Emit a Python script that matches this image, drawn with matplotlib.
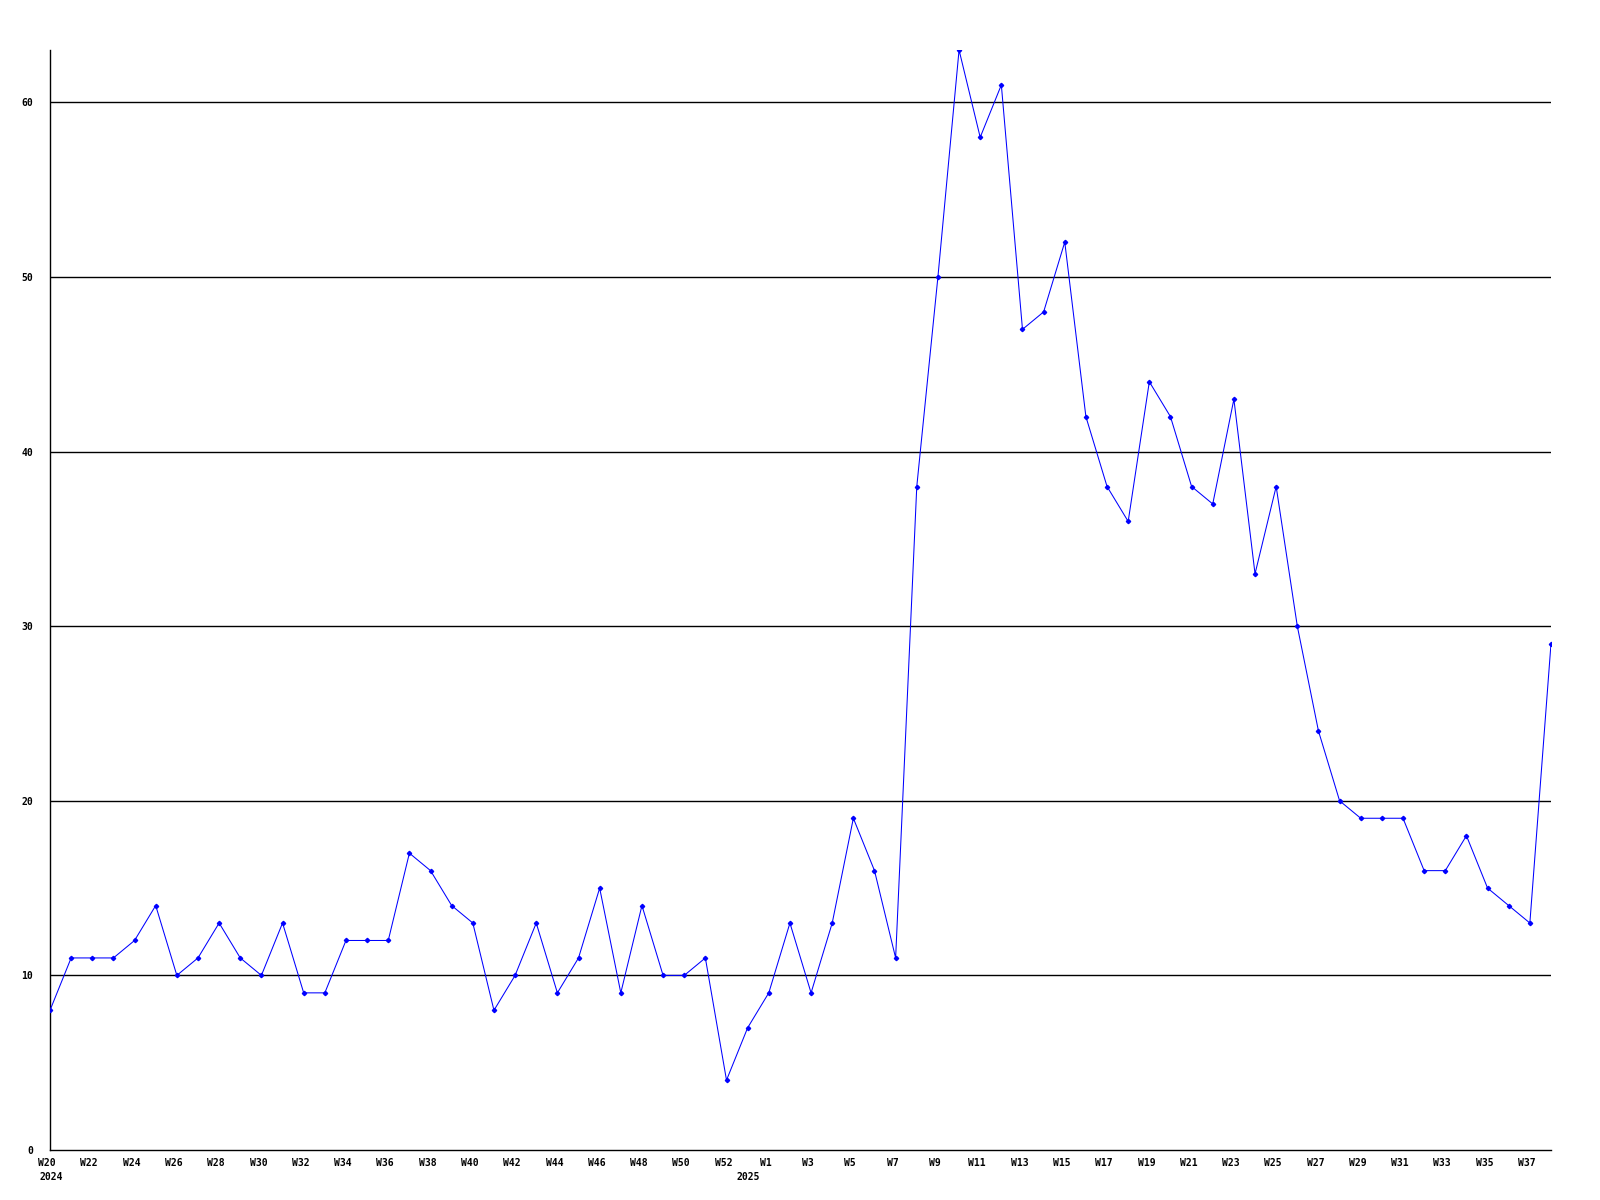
import numpy as np
from matplotlib import pyplot as plt
from matplotlib.transforms import ScaledTranslation

# weekly counts, W20 2024 .. W52 2024, then the week-0 of 2025, then W1 .. W38 2025
values_2024 = [8, 11, 11, 11, 12, 14, 10, 11, 13, 11, 10, 13, 9, 9, 12, 12, 12,
               17, 16, 14, 13, 8, 10, 13, 9, 11, 15, 9, 14, 10, 10, 11, 4]
values_2025 = [7, 9, 13, 9, 13, 19, 16, 11, 38, 50, 63, 58, 61, 47, 48, 52, 42,
               38, 36, 44, 42, 38, 37, 43, 33, 38, 30, 24, 20, 19, 19, 19, 16,
               16, 18, 15, 14, 13, 29]
week_labels = ([f"W{w}" for w in range(20, 53, 2)] + [f"W{w}" for w in range(1, 38, 2)])
label_pos = list(range(0, 33, 2)) + list(range(34, 71, 2))
year_labels = ["2024", "2025"]
year_pos = [0, 33]
y_ticks = [0, 10, 20, 30, 40, 50, 60]

values = values_2024 + values_2025
x = np.arange(len(values))

font = dict(family="DejaVu Sans Mono", weight="bold", size=7)

fig = plt.figure(figsize=(16, 12), dpi=100)
ax = fig.add_axes([50 / 1600, 50 / 1200, 1501 / 1600, 1100 / 1200])

for y in y_ticks[1:]:
    ax.axhline(y, color="black", lw=1.0, zorder=1)
ax.plot(x, values, color="#0000ff", lw=0.75, marker="D", markersize=2.2, zorder=3)

ax.set_xlim(0, len(values) - 1)
ax.set_ylim(0, max(values))
for side in ("top", "right"):
    ax.spines[side].set_visible(False)
for side in ("left", "bottom"):
    ax.spines[side].set_linewidth(1.0)

ax.set_xticks(label_pos)
ax.set_xticklabels(week_labels, **font)
ax.set_yticks(y_ticks)
ax.set_yticklabels([str(v) for v in y_ticks], **font)
ax.tick_params(axis="both", length=0)
ax.tick_params(axis="x", pad=6)
ax.tick_params(axis="y", pad=12)

# labels sit a few pixels left of their points in the original
shift = ScaledTranslation(-3 / 100, 0, fig.dpi_scale_trans)
for lab in ax.get_xticklabels():
    lab.set_transform(lab.get_transform() + shift)

for pos, lab in zip(year_pos, year_labels):
    ax.annotate(lab, xy=(pos, 0), xycoords=("data", "axes fraction"),
                xytext=(1, -27), textcoords="offset pixels",
                ha="center", va="center", **font)

fig.savefig("out.png", dpi=100)
